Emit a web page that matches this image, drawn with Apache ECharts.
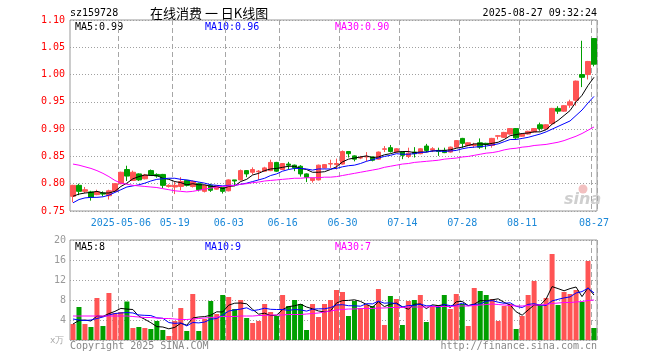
<!DOCTYPE html>
<html><head><meta charset="utf-8">
<script src="https://cdn.jsdelivr.net/npm/echarts@6/dist/echarts.min.js"></script>
<style>html,body{margin:0;padding:0;background:#fff}#c{width:660px;height:360px}</style>
</head><body><div id="c"></div>
<script>
const dates = ["2025-04-21","2025-04-22","2025-04-23","2025-04-24","2025-04-25","2025-04-28","2025-04-29","2025-04-30","2025-05-06","2025-05-07","2025-05-08","2025-05-09","2025-05-12","2025-05-13","2025-05-14","2025-05-15","2025-05-16","2025-05-19","2025-05-20","2025-05-21","2025-05-22","2025-05-23","2025-05-26","2025-05-27","2025-05-28","2025-05-29","2025-06-03","2025-06-04","2025-06-05","2025-06-06","2025-06-09","2025-06-10","2025-06-11","2025-06-12","2025-06-13","2025-06-16","2025-06-17","2025-06-18","2025-06-19","2025-06-20","2025-06-23","2025-06-24","2025-06-25","2025-06-26","2025-06-27","2025-06-30","2025-07-01","2025-07-02","2025-07-03","2025-07-04","2025-07-07","2025-07-08","2025-07-09","2025-07-10","2025-07-11","2025-07-14","2025-07-15","2025-07-16","2025-07-17","2025-07-18","2025-07-21","2025-07-22","2025-07-23","2025-07-24","2025-07-25","2025-07-28","2025-07-29","2025-07-30","2025-07-31","2025-08-01","2025-08-04","2025-08-05","2025-08-06","2025-08-07","2025-08-08","2025-08-11","2025-08-12","2025-08-13","2025-08-14","2025-08-15","2025-08-18","2025-08-19","2025-08-20","2025-08-21","2025-08-22","2025-08-25","2025-08-26","2025-08-27"];
const labelIdx = [8,17,26,35,45,55,65,75,87];
const opens  = [0.777,0.797,0.786,0.785,0.780,0.783,0.778,0.786,0.800,0.826,0.806,0.818,0.809,0.824,0.817,0.817,0.795,0.794,0.795,0.806,0.795,0.800,0.786,0.797,0.790,0.793,0.787,0.807,0.807,0.824,0.821,0.822,0.823,0.824,0.839,0.826,0.836,0.834,0.832,0.818,0.806,0.807,0.829,0.836,0.835,0.836,0.859,0.851,0.847,0.849,0.849,0.845,0.863,0.866,0.858,0.858,0.850,0.858,0.855,0.869,0.862,0.861,0.861,0.858,0.867,0.883,0.870,0.870,0.875,0.874,0.870,0.887,0.885,0.891,0.901,0.887,0.891,0.895,0.908,0.901,0.910,0.938,0.933,0.944,0.953,1.000,1.000,1.066];
const closes = [0.797,0.786,0.789,0.775,0.785,0.781,0.787,0.800,0.821,0.814,0.821,0.807,0.816,0.816,0.814,0.797,0.797,0.797,0.804,0.797,0.804,0.789,0.797,0.788,0.796,0.786,0.807,0.805,0.824,0.818,0.826,0.823,0.829,0.839,0.823,0.837,0.834,0.829,0.818,0.812,0.810,0.834,0.835,0.837,0.837,0.859,0.855,0.845,0.848,0.850,0.843,0.858,0.864,0.859,0.864,0.852,0.856,0.855,0.864,0.861,0.864,0.859,0.857,0.867,0.879,0.874,0.875,0.872,0.867,0.872,0.883,0.888,0.894,0.901,0.884,0.891,0.896,0.901,0.901,0.908,0.938,0.933,0.943,0.950,0.988,0.995,1.024,1.019];
const lows   = [0.766,0.779,0.783,0.769,0.779,0.777,0.771,0.785,0.799,0.805,0.805,0.805,0.808,0.815,0.811,0.792,0.793,0.781,0.788,0.795,0.793,0.786,0.784,0.785,0.789,0.782,0.786,0.797,0.806,0.812,0.817,0.807,0.822,0.823,0.822,0.825,0.826,0.823,0.813,0.803,0.802,0.806,0.828,0.829,0.826,0.835,0.848,0.841,0.845,0.841,0.841,0.844,0.858,0.857,0.857,0.845,0.847,0.848,0.854,0.858,0.858,0.851,0.856,0.857,0.866,0.866,0.869,0.866,0.864,0.863,0.866,0.881,0.884,0.890,0.881,0.886,0.890,0.894,0.897,0.898,0.908,0.928,0.932,0.939,0.943,0.977,0.991,1.015];
const highs  = [0.798,0.800,0.794,0.787,0.789,0.786,0.789,0.801,0.822,0.833,0.824,0.819,0.818,0.826,0.819,0.818,0.799,0.804,0.812,0.807,0.806,0.802,0.798,0.800,0.797,0.794,0.808,0.807,0.826,0.825,0.830,0.825,0.831,0.844,0.840,0.838,0.840,0.835,0.834,0.819,0.811,0.835,0.836,0.844,0.846,0.861,0.860,0.852,0.851,0.858,0.850,0.859,0.869,0.871,0.865,0.859,0.866,0.867,0.865,0.873,0.867,0.866,0.866,0.868,0.880,0.884,0.876,0.875,0.883,0.875,0.884,0.889,0.895,0.902,0.902,0.892,0.897,0.902,0.912,0.909,0.939,0.942,0.944,0.954,0.989,1.062,1.025,1.067];
const ma5  = [0.777,0.781,0.783,0.784,0.786,0.783,0.783,0.786,0.795,0.801,0.809,0.813,0.816,0.815,0.815,0.810,0.808,0.804,0.802,0.798,0.800,0.798,0.798,0.795,0.795,0.791,0.795,0.796,0.804,0.808,0.816,0.819,0.824,0.827,0.828,0.830,0.832,0.832,0.828,0.826,0.821,0.821,0.822,0.826,0.831,0.840,0.845,0.847,0.849,0.851,0.848,0.849,0.853,0.855,0.858,0.859,0.859,0.857,0.858,0.858,0.860,0.861,0.861,0.862,0.865,0.867,0.870,0.873,0.873,0.872,0.874,0.876,0.881,0.888,0.890,0.892,0.893,0.895,0.895,0.899,0.909,0.916,0.925,0.934,0.950,0.962,0.980,0.995];
const ma10 = [0.765,0.771,0.774,0.775,0.775,0.776,0.779,0.784,0.789,0.794,0.796,0.798,0.801,0.805,0.808,0.809,0.810,0.810,0.808,0.807,0.805,0.803,0.801,0.798,0.797,0.796,0.797,0.797,0.799,0.801,0.804,0.807,0.810,0.815,0.818,0.823,0.826,0.828,0.828,0.827,0.825,0.827,0.827,0.827,0.828,0.831,0.833,0.834,0.837,0.841,0.844,0.847,0.850,0.852,0.855,0.854,0.854,0.855,0.857,0.858,0.860,0.860,0.859,0.860,0.861,0.864,0.866,0.867,0.868,0.869,0.871,0.873,0.877,0.881,0.881,0.883,0.885,0.888,0.891,0.895,0.900,0.905,0.910,0.915,0.925,0.935,0.948,0.960];
const ma30 = [0.836,0.834,0.831,0.828,0.824,0.819,0.813,0.806,0.801,0.799,0.797,0.796,0.795,0.794,0.793,0.791,0.789,0.787,0.786,0.785,0.786,0.788,0.790,0.792,0.794,0.795,0.796,0.797,0.799,0.800,0.802,0.803,0.805,0.806,0.807,0.808,0.809,0.810,0.810,0.811,0.811,0.811,0.812,0.812,0.813,0.815,0.817,0.819,0.821,0.823,0.825,0.827,0.830,0.832,0.834,0.836,0.837,0.839,0.840,0.841,0.842,0.843,0.845,0.846,0.847,0.849,0.850,0.852,0.854,0.856,0.857,0.859,0.862,0.864,0.865,0.867,0.868,0.870,0.871,0.872,0.874,0.876,0.879,0.883,0.887,0.892,0.898,0.904];
const volumes = [3.2,6.6,3.2,2.6,8.4,2.8,9.4,5.4,5.6,7.7,2.4,2.6,2.4,2.2,3.8,2.0,0.8,3.8,6.4,1.8,9.2,1.8,4.2,7.8,5.2,9.0,8.6,6.2,8.0,4.4,3.4,3.8,7.2,5.6,4.8,9.0,6.8,8.0,7.2,2.0,7.2,4.6,7.2,8.0,10.0,9.6,4.8,7.8,6.4,7.0,6.8,10.2,3.0,8.8,8.2,3.0,7.8,8.0,9.0,3.6,6.8,7.0,9.0,6.2,9.2,7.2,2.8,10.4,9.8,9.0,8.2,3.8,6.8,7.2,2.2,4.8,9.0,11.8,7.0,8.4,17.2,7.0,9.6,9.2,10.0,7.6,15.8,2.4];
const vma5  = [3.2,3.9,4.0,3.8,4.8,4.72,5.28,5.72,6.32,6.18,6.1,4.74,4.14,3.46,2.68,2.6,2.24,2.52,3.36,2.96,4.4,4.6,4.68,4.96,5.64,5.6,6.96,7.36,7.4,7.24,6.12,5.16,5.36,4.88,4.96,6.08,6.68,6.84,7.16,6.6,6.24,5.8,5.64,5.8,7.4,7.88,7.92,8.04,7.72,7.12,6.56,7.64,6.68,7.16,7.4,6.64,6.16,7.16,7.2,6.28,7.04,6.88,7.08,6.52,7.64,7.72,6.88,7.16,7.88,7.84,8.04,8.24,7.52,7.0,5.64,4.96,6.0,7.0,6.96,8.2,10.68,10.28,9.84,10.28,10.6,8.68,10.44,9.0];
const vma10 = [4.2,4.0,3.9,4.0,4.3,4.6,5.0,5.3,5.4,5.49,5.41,5.01,4.93,4.89,4.43,4.35,3.49,3.33,3.41,2.82,3.5,3.42,3.6,4.16,4.3,5.0,5.78,6.02,6.18,6.44,5.86,6.06,6.36,6.14,6.1,6.1,5.92,6.1,6.02,5.78,6.16,6.24,6.24,6.48,7.0,7.06,6.86,6.84,6.76,7.26,7.22,7.78,7.36,7.44,7.26,6.6,6.9,6.92,7.18,6.84,6.84,6.52,7.12,6.86,6.96,7.38,6.88,7.12,7.2,7.74,7.88,7.56,7.34,7.44,6.74,6.5,7.12,7.26,6.98,6.92,7.82,8.14,8.42,8.62,9.4,9.68,10.36,9.42];
const vma30 = [4.8,4.8,4.8,4.8,4.8,4.8,4.8,4.8,4.8,4.8,4.7,4.6,4.5,4.5,4.4,4.3,4.3,4.2,4.1,4.1,4.2,4.3,4.4,4.5,4.6,4.7,4.7,4.7,4.8,4.8,4.8,4.9,4.9,5.0,5.0,5.0,5.1,5.1,5.1,5.2,5.3,5.4,5.6,5.8,6.0,6.1,6.2,6.2,6.3,6.3,6.3,6.4,6.4,6.5,6.5,6.5,6.6,6.6,6.6,6.6,6.7,6.7,6.7,6.7,6.8,6.8,6.8,6.9,7.0,7.1,7.2,7.1,7.0,6.9,6.8,6.8,6.9,7.0,7.0,7.1,7.3,7.4,7.5,7.5,7.6,7.7,7.9,8.0];

const UP = '#ff5454', DOWN = '#009f00';
const mono = '"DejaVu Sans Mono","Liberation Mono",monospace';
const candleData = opens.map((o, i) => [o, closes[i], lows[i], highs[i]]);
const volData = volumes.map((v, i) => ({ value: v, itemStyle: { color: closes[i] >= opens[i] ? UP : DOWN } }));
const showIdx = (i) => labelIdx.indexOf(i) >= 0;

const chart = echarts.init(document.getElementById('c'));
const line = (name, data, color, xi, yi) => ({
  name, type: 'line', data, xAxisIndex: xi, yAxisIndex: yi, showSymbol: false, symbol: 'none',
  lineStyle: { color, width: 1 }, z: 5, silent: true
});
const txt = (x, y, text, fill, size, extra) => ({
  type: 'text', x, y, style: Object.assign({ text, fill, font: (size || 10) + 'px ' + mono, textVerticalAlign: 'middle' }, extra || {})
});

chart.setOption({
  animation: false,
  backgroundColor: '#fff',
  grid: [
    { left: 70, right: 63, top: 20, height: 191, show: true, borderColor: '#999999', borderWidth: 1 },
    { left: 70, right: 63, top: 240, height: 100, show: true, borderColor: '#999999', borderWidth: 1 }
  ],
  xAxis: [
    { type: 'category', data: dates, gridIndex: 0, boundaryGap: true,
      axisLine: { show: false }, axisTick: { show: false },
      axisLabel: { interval: showIdx, formatter: (v, i) => (i === 8 ? v : v.slice(5)), color: '#1b88d8', fontFamily: mono, fontSize: 10, margin: 7 },
      splitLine: { show: true, interval: showIdx, lineStyle: { color: '#a6a6a6', type: [5, 3], width: 1 } } },
    { type: 'category', data: dates, gridIndex: 1, boundaryGap: true,
      axisLine: { show: false }, axisTick: { show: false }, axisLabel: { show: false },
      splitLine: { show: true, interval: showIdx, lineStyle: { color: '#a6a6a6', type: [5, 3], width: 1 } } }
  ],
  yAxis: [
    { type: 'value', gridIndex: 0, min: 0.75, max: 1.10, interval: 0.05,
      axisLine: { show: false }, axisTick: { show: false },
      axisLabel: { color: '#ff0000', formatter: (v) => v.toFixed(2), fontFamily: mono, fontSize: 10, margin: 5 },
      splitLine: { lineStyle: { color: '#a0a0a0', type: [1, 2] } } },
    { type: 'value', gridIndex: 1, min: 0, max: 20, interval: 4,
      axisLine: { show: false }, axisTick: { show: false },
      axisLabel: { color: '#999999', formatter: (v) => (v === 0 ? '' : String(v)), fontFamily: mono, fontSize: 10, margin: 4 },
      splitLine: { lineStyle: { color: '#a0a0a0', type: [1, 2] } } }
  ],
  series: [
    { name: 'K', type: 'candlestick', data: candleData, xAxisIndex: 0, yAxisIndex: 0, barWidth: 5,
      itemStyle: { color: UP, color0: DOWN, borderColor: UP, borderColor0: DOWN, borderWidth: 1 } },
    line('MA5', ma5, '#000000', 0, 0),
    line('MA10', ma10, '#0000ff', 0, 0),
    line('MA30', ma30, '#ff00ff', 0, 0),
    { name: 'VOL', type: 'bar', data: volData, xAxisIndex: 1, yAxisIndex: 1, barWidth: 5 },
    line('VMA5', vma5, '#000000', 1, 1),
    line('VMA10', vma10, '#0000ff', 1, 1),
    line('VMA30', vma30, '#ff00ff', 1, 1)
  ],
  graphic: [
    txt(70, 13, 'sz159728', '#000', 10),
    { type: 'text', x: 150, y: 13, style: { text: '在线消费 一 日K线图', fill: '#000', font: '13px "Noto Sans CJK SC"', textVerticalAlign: 'middle' } },
    txt(597, 13, '2025-08-27 09:32:24', '#000', 10, { textAlign: 'right' }),
    txt(75, 27, 'MA5:0.99', '#000', 10),
    txt(205, 27, 'MA10:0.96', '#0000ff', 10),
    txt(335, 27, 'MA30:0.90', '#ff00ff', 10),
    txt(75, 247, 'MA5:8', '#000', 10),
    txt(205, 247, 'MA10:9', '#0000ff', 10),
    txt(335, 247, 'MA30:7', '#ff00ff', 10),
    txt(50, 341, 'x万', '#aaaaaa', 9),
    txt(70, 346, 'Copyright 2025 SINA.COM', '#888', 10),
    txt(597, 346, 'http://finance.sina.com.cn', '#888', 10, { textAlign: 'right' }),
    { type: 'circle', shape: { cx: 583, cy: 189, r: 4.5 }, style: { fill: '#f2c0c0' } },
    { type: 'text', x: 564, y: 200, style: { text: 'sina', fill: '#cfcfcf', font: 'italic bold 16px "DejaVu Sans"', textVerticalAlign: 'middle' } }
  ]
});
</script></body></html>
